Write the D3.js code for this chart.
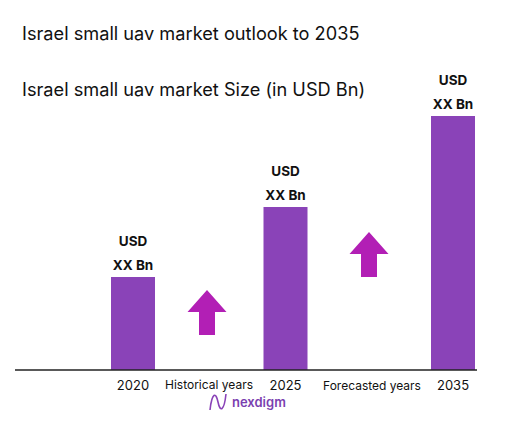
<!DOCTYPE html><html><head><script src="https://cdn.jsdelivr.net/npm/d3@7"></script>
<style>body{margin:0;background:#fff}</style></head><body><svg id="c" width="522" height="425"></svg>
<script>
const categories=["2020","2025","2035"];
const values=[0.93,1.63,2.54];
const barLabels=["USD","XX Bn"];
const gapLabels=["Historical years","Forecasted years"];
const svg=d3.select("#c");
const f="Inter, 'Noto Sans', sans-serif";
svg.append("text").attr("x",22).attr("y",40).attr("font-family",f).attr("font-size",18.2).attr("fill","#111").text("Israel small uav market outlook to 2035");
svg.append("text").attr("x",22).attr("y",96).attr("font-family",f).attr("font-size",18.2).attr("fill","#111").text("Israel small uav market Size (in USD Bn)");
const y=d3.scaleLinear().domain([0,2.54]).range([370,116]);
const xc={"2020":133,"2025":285.5,"2035":453};
const bw=44;
categories.forEach((c,i)=>{
  svg.append("rect").attr("x",xc[c]-bw/2).attr("y",y(values[i])).attr("width",bw).attr("height",370-y(values[i])).attr("fill","#8a43b8");
  barLabels.forEach((t,j)=>svg.append("text").attr("x",xc[c]).attr("y",y(values[i])-31+j*24).attr("text-anchor","middle").attr("font-family",f).attr("font-weight","bold").attr("font-size",13.5).attr("fill","#111").text(t));
  svg.append("text").attr("x",xc[c]).attr("y",390).attr("text-anchor","middle").attr("font-family",f).attr("font-size",13).attr("fill","#111").text(c);
});
svg.append("line").attr("x1",15).attr("x2",477).attr("y1",370).attr("y2",370).attr("stroke","#222").attr("stroke-width",1.5);
svg.append("text").attr("x",209).attr("y",389).attr("text-anchor","middle").attr("font-family",f).attr("font-size",12).attr("fill","#111").text(gapLabels[0]);
svg.append("text").attr("x",372).attr("y",390).attr("text-anchor","middle").attr("font-family",f).attr("font-size",12).attr("fill","#111").text(gapLabels[1]);
function arrow(cx,top,bot){
  const w=39,sw=16,hh=22;
  const p=[[cx,top],[cx+w/2,top+hh],[cx+sw/2,top+hh],[cx+sw/2,bot],[cx-sw/2,bot],[cx-sw/2,top+hh],[cx-w/2,top+hh]];
  svg.append("path").attr("d",d3.line()(p)+"Z").attr("fill","#b21fb5");
}
arrow(207,290,335);arrow(369,232,277);
svg.append("path").attr("d","M210,410 C212,392 216,392 218,402 C220,412 224,412 226,394").attr("fill","none").attr("stroke","#8a43b8").attr("stroke-width",1.6);
svg.append("text").attr("x",232).attr("y",407).attr("font-family",f).attr("font-size",13).attr("font-weight","600").attr("fill","#7b3fb0").text("nexdigm");
</script></body></html>
